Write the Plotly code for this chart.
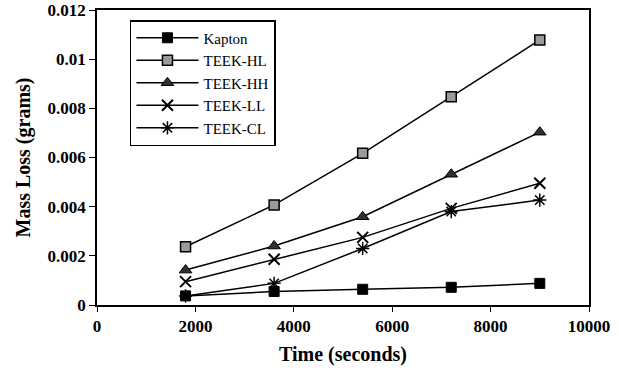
import plotly.graph_objects as go

time_s = [1800, 3600, 5400, 7200, 9000]
kapton = [0.00037, 0.00055, 0.00064, 0.00072, 0.00088]
teek_hl = [0.00237, 0.00407, 0.00617, 0.00847, 0.01078]
teek_hh = [0.00142, 0.0024, 0.00359, 0.00532, 0.00703]
teek_ll = [0.00095, 0.00186, 0.00275, 0.00393, 0.00495]
teek_cl = [0.00037, 0.00088, 0.0023, 0.0038, 0.00427]

x_ticks = [0, 2000, 4000, 6000, 8000, 10000]
x_ticktext = ["0", "2000", "4000", "6000", "8000", "10000"]
y_ticks = [0, 0.002, 0.004, 0.006, 0.008, 0.01, 0.012]
y_ticktext = ["0", "0.002", "0.004", "0.006", "0.008", "0.01", "0.012"]

SERIF = "Liberation Serif, Times New Roman, serif"

series = [
    ("Kapton", kapton, dict(symbol="square", size=10, color="black", line=dict(color="black", width=1))),
    ("TEEK-HL", teek_hl, dict(symbol="square", size=10, color="#9a9a9a", line=dict(color="black", width=1.5))),
    ("TEEK-HH", teek_hh, dict(symbol="triangle-up", size=11, color="#303030", line=dict(color="black", width=1))),
    ("TEEK-LL", teek_ll, dict(symbol="x-thin-open", size=11, color="black", line=dict(color="black", width=2))),
    ("TEEK-CL", teek_cl, dict(symbol="asterisk-open", size=11, color="black", line=dict(color="black", width=1.5))),
]

fig = go.Figure()
for name, ys, mk in series:
    fig.add_trace(go.Scatter(
        x=time_s, y=ys, name=name, mode="lines+markers",
        line=dict(color="black", width=1.5), marker=mk,
    ))

fig.update_layout(
    width=619, height=370,
    margin=dict(l=97, r=30, t=10, b=65),
    paper_bgcolor="white", plot_bgcolor="white",
    font=dict(family=SERIF, color="black"),
    showlegend=True,
    legend=dict(
        x=0.067, y=0.966, xanchor="left", yanchor="top",
        bordercolor="black", borderwidth=1.5, bgcolor="white",
        font=dict(family=SERIF, size=15, color="black"),
        tracegroupgap=0, itemwidth=62,
    ),
)
fig.update_xaxes(
    range=[0, 10000], tickvals=x_ticks, ticktext=x_ticktext,
    showgrid=False, zeroline=False, automargin=False,
    showline=True, linecolor="black", linewidth=1.5, mirror=True,
    ticks="outside", ticklen=5, tickwidth=1.2, tickcolor="black",
    tickfont=dict(family=SERIF, size=17, color="black", weight="bold"),
    title=dict(text="<b>Time (seconds)</b>", font=dict(family=SERIF, size=20, color="black"), standoff=12),
)
fig.update_yaxes(
    range=[0, 0.012], tickvals=y_ticks, ticktext=y_ticktext,
    showgrid=False, zeroline=False, automargin=False,
    showline=True, linecolor="black", linewidth=1.5, mirror=True,
    ticks="outside", ticklen=6, tickwidth=1.2, tickcolor="black",
    tickfont=dict(family=SERIF, size=17, color="black", weight="bold"),
    title=dict(text="<b>Mass Loss (grams)</b>", font=dict(family=SERIF, size=20, color="black"), standoff=12),
)

fig.write_html("out.html")
